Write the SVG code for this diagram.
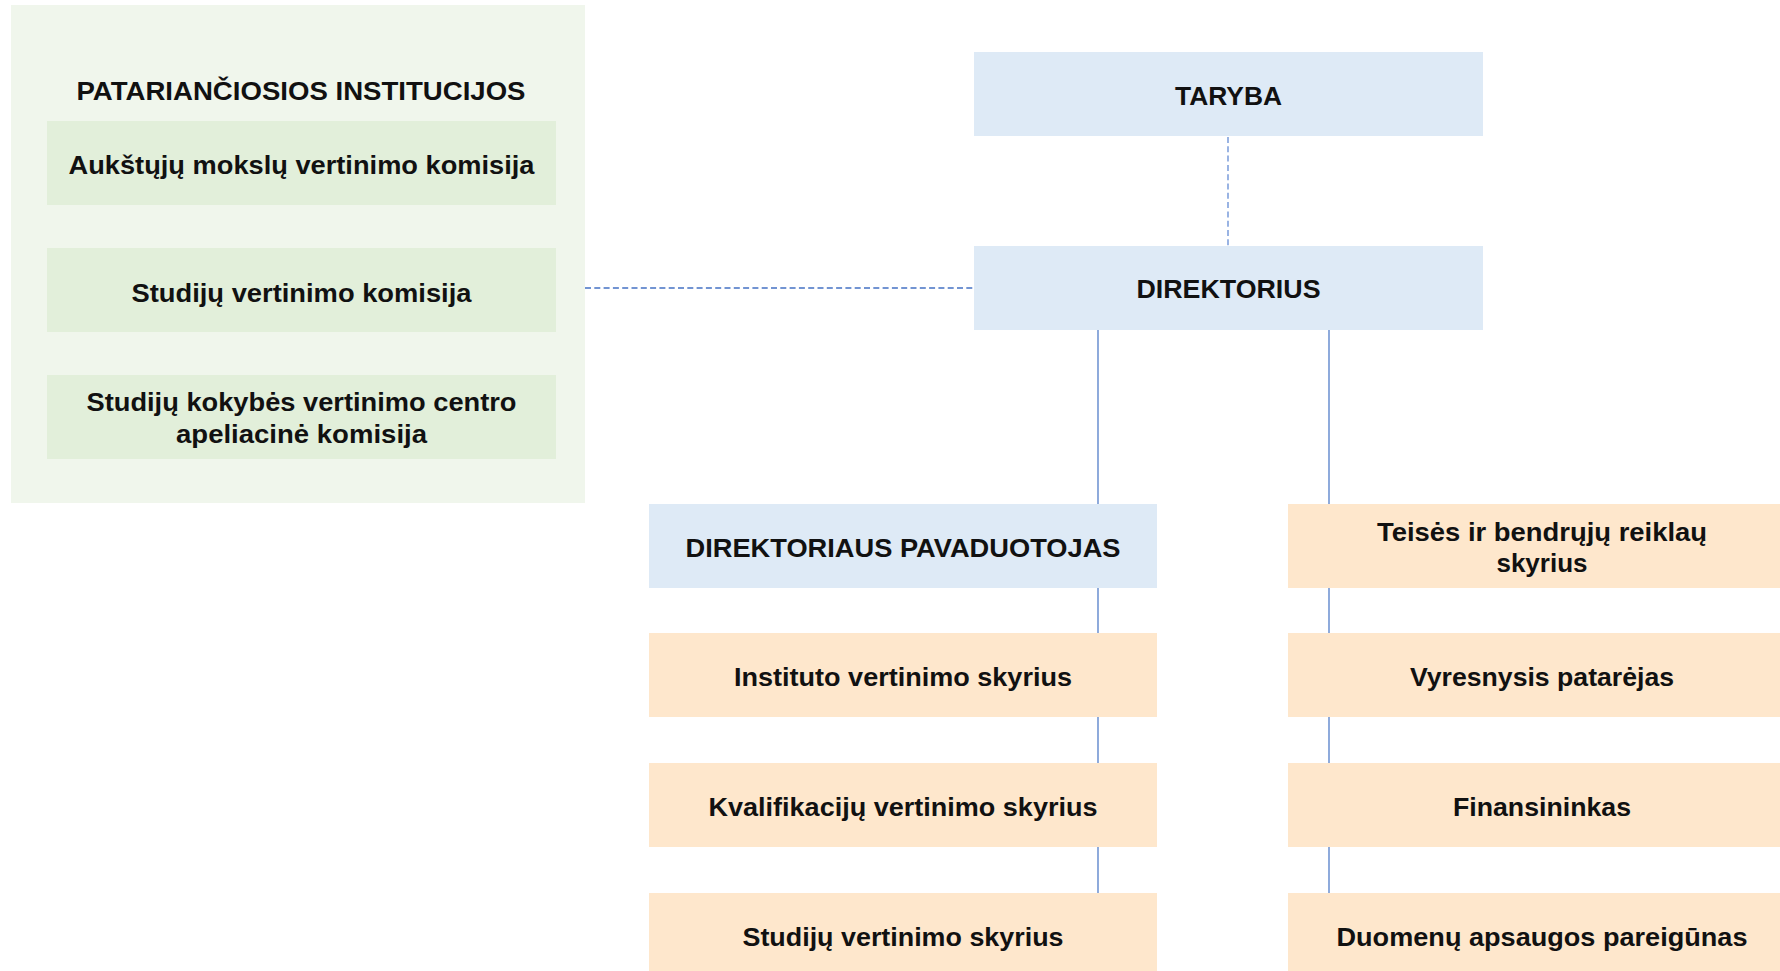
<svg xmlns="http://www.w3.org/2000/svg" width="1780" height="971" viewBox="0 0 1780 971">
<style>
text{font-family:"Liberation Sans",Arial,sans-serif;font-weight:bold;font-size:26px;fill:#111;text-anchor:middle}
.panel{fill:#F0F6EC}
.green{fill:#E2EFDA}
.blue{fill:#DEEAF6}
.orange{fill:#FEE7CC}
.solid{stroke:#4472C4;stroke-width:1.2;fill:none}
.dash{stroke:#4472C4;stroke-width:1.6;stroke-dasharray:6 3.3;fill:none}
.dashv{stroke:#6F94D8;stroke-width:1.4;stroke-dasharray:6 3.3;fill:none}
</style>
<rect width="1780" height="971" fill="#fff"/>
<g id="connectors">
<line class="dash" x1="585" y1="288" x2="974" y2="288"/>
<line class="dashv" x1="1228" y1="137" x2="1228" y2="246"/>
<line class="solid" x1="1098" y1="330" x2="1098" y2="893"/>
<line class="solid" x1="1329" y1="330" x2="1329" y2="893"/>
</g>
<g id="advisory">
<rect class="panel" x="11" y="5" width="574" height="498"/>
<text x="301" y="100" textLength="449" lengthAdjust="spacingAndGlyphs">PATARIANČIOSIOS INSTITUCIJOS</text>
</g>
<g id="n-aukstuju">
<rect class="green" x="47" y="121" width="509" height="84"/>
<text x="301.5" y="173.5" textLength="466" lengthAdjust="spacingAndGlyphs">Aukštųjų mokslų vertinimo komisija</text>
</g>
<g id="n-studiju-komisija">
<rect class="green" x="47" y="248" width="509" height="84"/>
<text x="301.5" y="301.5" textLength="340" lengthAdjust="spacingAndGlyphs">Studijų vertinimo komisija</text>
</g>
<g id="n-apeliacine">
<rect class="green" x="47" y="375" width="509" height="84"/>
<text x="301.5" y="411" textLength="430" lengthAdjust="spacingAndGlyphs">Studijų kokybės vertinimo centro</text>
<text x="301.5" y="443" textLength="251" lengthAdjust="spacingAndGlyphs">apeliacinė komisija</text>
</g>
<g id="n-taryba">
<rect class="blue" x="974" y="52" width="509" height="84"/>
<text x="1228.5" y="105" textLength="107" lengthAdjust="spacingAndGlyphs">TARYBA</text>
</g>
<g id="n-direktorius">
<rect class="blue" x="974" y="246" width="509" height="84"/>
<text x="1228.5" y="298" textLength="184" lengthAdjust="spacingAndGlyphs">DIREKTORIUS</text>
</g>
<g id="n-pavaduotojas">
<rect class="blue" x="649" y="504" width="508" height="84"/>
<text x="903" y="557" textLength="435" lengthAdjust="spacingAndGlyphs">DIREKTORIAUS PAVADUOTOJAS</text>
</g>
<g id="n-instituto">
<rect class="orange" x="649" y="633" width="508" height="84"/>
<text x="903" y="686" textLength="338" lengthAdjust="spacingAndGlyphs">Instituto vertinimo skyrius</text>
</g>
<g id="n-kvalifikaciju">
<rect class="orange" x="649" y="763" width="508" height="84"/>
<text x="903" y="816" textLength="389" lengthAdjust="spacingAndGlyphs">Kvalifikacijų vertinimo skyrius</text>
</g>
<g id="n-studiju-skyrius">
<rect class="orange" x="649" y="893" width="508" height="84"/>
<text x="903" y="946" textLength="321" lengthAdjust="spacingAndGlyphs">Studijų vertinimo skyrius</text>
</g>
<g id="n-teises">
<rect class="orange" x="1288" y="504" width="508" height="84"/>
<text x="1542" y="541" textLength="330" lengthAdjust="spacingAndGlyphs">Teisės ir bendrųjų reiklaų</text>
<text x="1542" y="572">skyrius</text>
</g>
<g id="n-vyresnysis">
<rect class="orange" x="1288" y="633" width="508" height="84"/>
<text x="1542" y="686" textLength="264" lengthAdjust="spacingAndGlyphs">Vyresnysis patarėjas</text>
</g>
<g id="n-finansininkas">
<rect class="orange" x="1288" y="763" width="508" height="84"/>
<text x="1542" y="816" textLength="178" lengthAdjust="spacingAndGlyphs">Finansininkas</text>
</g>
<g id="n-duomenu">
<rect class="orange" x="1288" y="893" width="508" height="84"/>
<text x="1542" y="946" textLength="411" lengthAdjust="spacingAndGlyphs">Duomenų apsaugos pareigūnas</text>
</g>
</svg>
